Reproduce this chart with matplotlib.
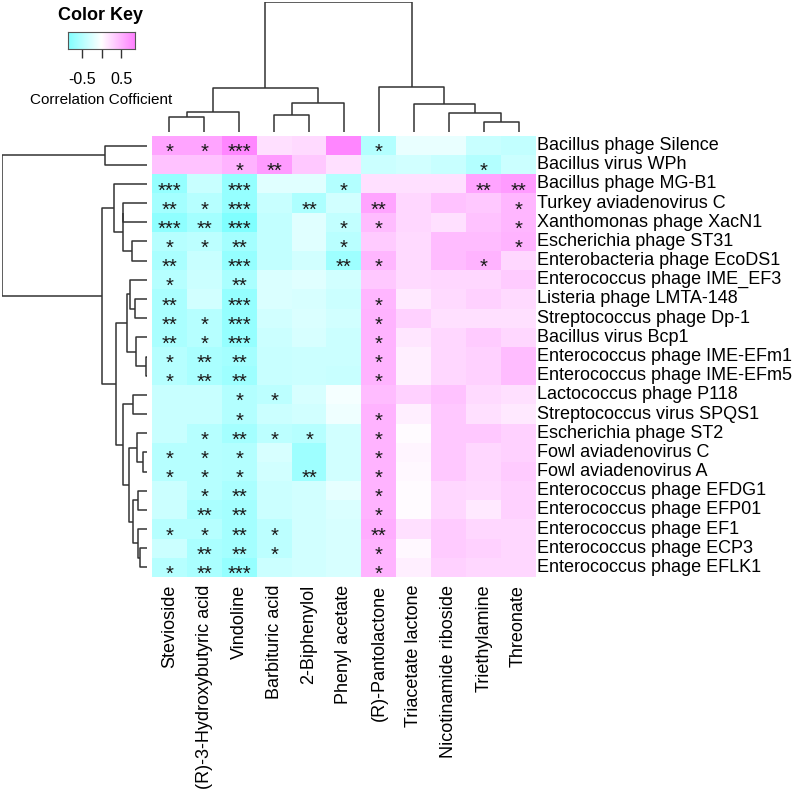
import matplotlib
matplotlib.use('Agg')
import matplotlib.pyplot as plt
import numpy as np
from matplotlib.colors import LinearSegmentedColormap

plt.rcParams['font.family'] = ['Liberation Sans', 'DejaVu Sans']

# metabolites (columns) and viruses (rows), in the dendrogram order
metabolites = ['Stevioside', '(R)-3-Hydroxybutyric acid', 'Vindoline', 'Barbituric acid',
               '2-Biphenylol', 'Phenyl acetate', '(R)-Pantolactone', 'Triacetate lactone',
               'Nicotinamide riboside', 'Triethylamine', 'Threonate']
viruses = ['Bacillus phage Silence', 'Bacillus virus WPh', 'Bacillus phage MG-B1',
           'Turkey aviadenovirus C', 'Xanthomonas phage XacN1', 'Escherichia phage ST31',
           'Enterobacteria phage EcoDS1', 'Enterococcus phage IME_EF3', 'Listeria phage LMTA-148',
           'Streptococcus phage Dp-1', 'Bacillus virus Bcp1', 'Enterococcus phage IME-EFm1',
           'Enterococcus phage IME-EFm5', 'Lactococcus phage P118', 'Streptococcus virus SPQS1',
           'Escherichia phage ST2', 'Fowl aviadenovirus C', 'Fowl aviadenovirus A',
           'Enterococcus phage EFDG1', 'Enterococcus phage EFP01', 'Enterococcus phage EF1',
           'Enterococcus phage ECP3', 'Enterococcus phage EFLK1']

corr = np.array([
    [0.60, 0.60, 0.80, 0.20, 0.24, 0.80, -0.50, -0.14, -0.14, -0.36, -0.40],
    [0.40, 0.40, 0.50, 0.66, 0.36, 0.20, -0.34, -0.30, -0.36, -0.50, -0.34],
    [-0.70, -0.36, -0.70, -0.20, -0.20, -0.50, 0.20, 0.20, 0.20, 0.60, 0.66],
    [-0.60, -0.48, -0.70, -0.36, -0.54, -0.30, 0.60, 0.26, 0.40, 0.36, 0.48],
    [-0.74, -0.60, -0.84, -0.40, -0.20, -0.40, 0.44, 0.26, 0.20, 0.40, 0.48],
    [-0.48, -0.44, -0.60, -0.40, -0.20, -0.46, 0.34, 0.24, 0.44, 0.44, 0.50],
    [-0.56, -0.36, -0.70, -0.40, -0.30, -0.64, 0.48, 0.24, 0.44, 0.50, 0.26],
    [-0.48, -0.34, -0.56, -0.24, -0.20, -0.30, 0.36, 0.24, 0.26, 0.26, 0.34],
    [-0.56, -0.30, -0.70, -0.24, -0.26, -0.34, 0.48, 0.14, 0.24, 0.30, 0.24],
    [-0.56, -0.48, -0.70, -0.30, -0.24, -0.30, 0.50, 0.30, 0.20, 0.20, 0.20],
    [-0.56, -0.48, -0.70, -0.34, -0.26, -0.34, 0.50, 0.16, 0.26, 0.34, 0.26],
    [-0.48, -0.56, -0.60, -0.36, -0.34, -0.34, 0.50, 0.10, 0.26, 0.30, 0.44],
    [-0.48, -0.56, -0.64, -0.36, -0.34, -0.36, 0.50, 0.10, 0.26, 0.30, 0.44],
    [-0.36, -0.36, -0.50, -0.44, -0.26, -0.06, 0.44, 0.30, 0.40, 0.24, 0.20],
    [-0.36, -0.36, -0.50, -0.34, -0.30, -0.10, 0.50, 0.10, 0.36, 0.20, 0.14],
    [-0.36, -0.48, -0.60, -0.44, -0.48, -0.30, 0.50, 0.02, 0.36, 0.36, 0.30],
    [-0.48, -0.48, -0.50, -0.26, -0.64, -0.30, 0.50, 0.06, 0.36, 0.26, 0.30],
    [-0.48, -0.48, -0.50, -0.30, -0.64, -0.30, 0.50, 0.04, 0.36, 0.26, 0.34],
    [-0.34, -0.48, -0.56, -0.34, -0.30, -0.16, 0.50, 0.02, 0.26, 0.24, 0.30],
    [-0.34, -0.56, -0.60, -0.34, -0.30, -0.24, 0.50, 0.02, 0.26, 0.14, 0.30],
    [-0.48, -0.48, -0.60, -0.44, -0.30, -0.26, 0.54, 0.20, 0.34, 0.26, 0.26],
    [-0.34, -0.56, -0.60, -0.44, -0.30, -0.26, 0.50, 0.04, 0.34, 0.30, 0.26],
    [-0.48, -0.56, -0.70, -0.34, -0.30, -0.26, 0.50, 0.10, 0.30, 0.26, 0.26],
])

stars = [
    ['*', '*', '***', '', '', '', '*', '', '', '', ''],
    ['', '', '*', '**', '', '', '', '', '', '*', ''],
    ['***', '', '***', '', '', '*', '', '', '', '**', '**'],
    ['**', '*', '***', '', '**', '', '**', '', '', '', '*'],
    ['***', '**', '***', '', '', '*', '*', '', '', '', '*'],
    ['*', '*', '**', '', '', '*', '', '', '', '', '*'],
    ['**', '', '***', '', '', '**', '*', '', '', '*', ''],
    ['*', '', '**', '', '', '', '', '', '', '', ''],
    ['**', '', '***', '', '', '', '*', '', '', '', ''],
    ['**', '*', '***', '', '', '', '*', '', '', '', ''],
    ['**', '*', '***', '', '', '', '*', '', '', '', ''],
    ['*', '**', '**', '', '', '', '*', '', '', '', ''],
    ['*', '**', '**', '', '', '', '*', '', '', '', ''],
    ['', '', '*', '*', '', '', '', '', '', '', ''],
    ['', '', '*', '', '', '', '*', '', '', '', ''],
    ['', '*', '**', '*', '*', '', '*', '', '', '', ''],
    ['*', '*', '*', '', '', '', '*', '', '', '', ''],
    ['*', '*', '*', '', '**', '', '*', '', '', '', ''],
    ['', '*', '**', '', '', '', '*', '', '', '', ''],
    ['', '**', '**', '', '', '', '*', '', '', '', ''],
    ['*', '*', '**', '*', '', '', '**', '', '', '', ''],
    ['', '**', '**', '*', '', '', '*', '', '', '', ''],
    ['*', '**', '***', '', '', '', '*', '', '', '', ''],
]

# merges: (child a, child b, height); ids >= n are earlier merges
col_merges = [(0, 1, 15), (11, 2, 20), (3, 4, 17), (13, 5, 29), (12, 14, 44),
              (9, 10, 10), (8, 16, 19), (7, 17, 28), (6, 18, 45), (15, 19, 130)]
row_merges = [(0, 1, 42), (3, 4, 23.7), (5, 6, 15.3), (24, 25, 24.3), (2, 26, 32.7),
              (8, 9, 12), (7, 28, 17), (11, 12, 1.3), (10, 30, 11.3), (29, 31, 20.3),
              (13, 14, 13.7), (16, 17, 3.7), (15, 34, 10.3), (18, 19, 8.7), (21, 22, 7),
              (20, 37, 8.7), (36, 38, 13.7), (35, 39, 17.7), (33, 40, 24.3), (32, 41, 31),
              (27, 42, 45.3), (23, 43, 144.7)]

W, H = 798, 791
fig = plt.figure(figsize=(W / 100, H / 100), dpi=100)


def box(x0, y0, x1, y1):
    return [x0 / W, 1 - y1 / H, (x1 - x0) / W, (y1 - y0) / H]


cmap = LinearSegmentedColormap.from_list('key', ['#80FFFF', '#FFFFFF', '#FF80FF'])
vmin, vmax = -0.85, 0.85

# heatmap
ax = fig.add_axes(box(152, 136, 536, 577))
ax.imshow(corr, cmap=cmap, vmin=vmin, vmax=vmax, aspect='auto', interpolation='nearest')
nr, nc = corr.shape
for i in range(nr):
    for j in range(nc):
        if stars[i][j]:
            ax.text(j, i + 0.36, stars[i][j], ha='center', va='center', fontsize=14.5, color='#1a1a1a')
ax.set_xlim(-0.5, nc - 0.5)
ax.set_ylim(nr - 0.5, -0.5)
ax.set_xticks([])
ax.set_yticks([])
for s in ax.spines.values():
    s.set_visible(False)

for i, name in enumerate(viruses):
    ax.text(nc - 0.5 + 0.04, i, name, ha='left', va='center', fontsize=13)
for j, name in enumerate(metabolites):
    ax.text(j, nr - 0.5 + 0.4, name, ha='center', va='top', rotation=90, fontsize=13)


def dendro(axis, merges, n, vertical):
    pos = {i: float(i) for i in range(n)}
    hgt = {i: 0.0 for i in range(n)}
    for k, (a, b, h) in enumerate(merges):
        xs = [pos[a], pos[a], pos[b], pos[b]]
        ys = [hgt[a], h, h, hgt[b]]
        if vertical:
            axis.plot(xs, ys, color='#333333', lw=1.1, solid_capstyle='butt')
        else:
            axis.plot(ys, xs, color='#333333', lw=1.1, solid_capstyle='butt')
        pos[n + k] = (pos[a] + pos[b]) / 2
        hgt[n + k] = h
    axis.axis('off')


# column dendrogram
axc = fig.add_axes(box(152, 2, 536, 132))
dendro(axc, col_merges, nc, True)
axc.set_xlim(-0.5, nc - 0.5)
axc.set_ylim(0, 130)

# row dendrogram
axr = fig.add_axes(box(2, 136, 147, 577))
dendro(axr, row_merges, nr, False)
axr.set_xlim(145, 0)
axr.set_ylim(nr - 0.5, -0.5)

# color key
axk = fig.add_axes(box(68, 32, 135, 49))
grad = np.linspace(vmin, vmax, 256)[None, :]
axk.imshow(grad, cmap=cmap, vmin=vmin, vmax=vmax, aspect='auto',
           extent=(vmin, vmax, 0, 1))
axk.set_yticks([])
axk.set_xticks([-0.5, 0, 0.5])
axk.set_xticklabels(['-0.5', '', '0.5'], fontsize=11.5)
axk.tick_params(axis='x', length=6.5, width=1, color='#333333', pad=10)
for s in axk.spines.values():
    s.set_color('#555555')
fig.text(101 / W, 1 - 16 / H, 'Color Key', ha='center', va='center',
         fontsize=13, fontweight='bold')
fig.text(101.5 / W, 1 - 100 / H, 'Correlation Cofficient', ha='center', va='center',
         fontsize=11)

fig.savefig('out.png', dpi=100)
